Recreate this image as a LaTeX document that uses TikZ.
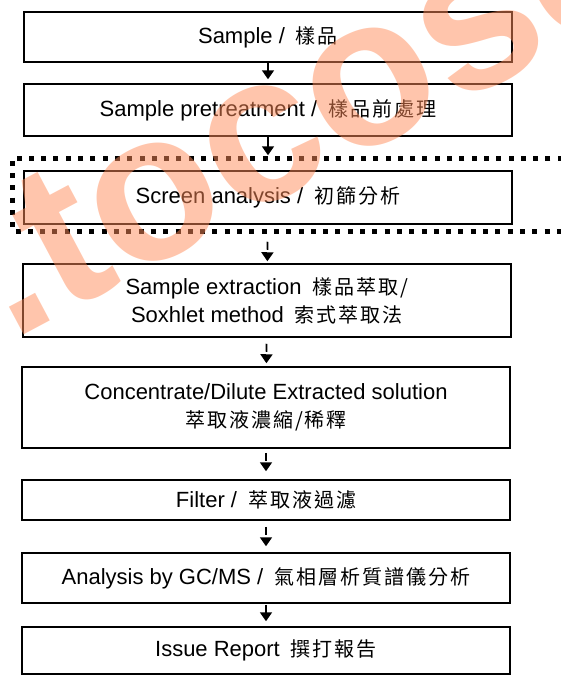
\documentclass[tikz,border=0pt]{standalone}
\usepackage{fontspec}
\setmainfont{Liberation Sans}
\newfontfamily\cjk{Noto Sans CJK TC}[LetterSpace=10]
\usetikzlibrary{arrows.meta}
\definecolor{peach}{RGB}{255,140,90}
\newcommand{\zh}[1]{{\cjk\fontsize{20}{28}\selectfont #1}}

\begin{document}
\begin{tikzpicture}[x=1pt, y=-1pt,
    box/.style={draw, line width=1.5pt, minimum width=488pt, inner sep=0pt,
                align=center, font=\fontsize{22}{28}\selectfont},
    flow/.style={-{Triangle[width=12pt,length=9pt]}, line width=1.8pt},
    flowdash/.style={flow, dash pattern=on 8pt off 4pt}]
  \useasboundingbox (0,0) rectangle (561,675);
  % steps
  \node[box, minimum height=50pt] (sample) at (268,37) {Sample /\hspace{11pt}\zh{樣品}};
  \node[box, minimum height=52pt] (pretreat) at (268,110) {Sample pretreatment /\hspace{11pt}\zh{樣品前處理}};
  \node[box, minimum height=53pt] (screen) at (268,197.5) {Screen analysis /\hspace{11pt}\zh{初篩分析}};
  \node[box, minimum height=73pt] (extract) at (267,300.5) {Sample extraction\hspace{11pt}\zh{樣品萃取/}\\
    Soxhlet method\hspace{11pt}\zh{索式萃取法}};
  \node[box, minimum height=81pt] (concdil) at (266,407.5) {Concentrate/Dilute Extracted solution\\
    \zh{萃取液濃縮/稀釋}};
  \node[box, minimum height=40pt] (filter) at (266,500) {Filter /\hspace{11pt}\zh{萃取液過濾}};
  \node[box, minimum height=50pt] (gcms) at (266,578) {Analysis by GC/MS /\hspace{11pt}\zh{氣相層析質譜儀分析}};
  \node[box, minimum height=47pt] (report) at (266,650.5) {Issue Report\hspace{11pt}\zh{撰打報告}};
  % dotted frame round the screening step
  \draw[line width=5pt, dash pattern=on 5pt off 7.3pt] (575,158) -- (12,158) -- (12,231) -- (575,231);
  % arrows
  \draw[flow, shorten >=4pt] (sample) -- (pretreat);
  \draw[flow, shorten >=15pt] (pretreat) -- (screen);
  \draw[flowdash, shorten <=17pt, shorten >=2pt] (screen) -- (extract);
  \draw[flowdash, shorten <=6pt, shorten >=3pt] (extract) -- (concdil);
  \draw[flowdash, shorten <=4pt, shorten >=8pt] (concdil) -- (filter);
  \draw[flowdash, shorten <=6pt, shorten >=6pt] (filter) -- (gcms);
  \draw[flowdash, shorten <=1pt, shorten >=5pt] (gcms) -- (report);
  % watermark
  \node[anchor=base west, rotate=28, text=peach, opacity=.5, inner sep=0pt,
        font=\bfseries\fontsize{210}{210}\selectfont] (mark) at (11,342) {.tocosc};
\end{tikzpicture}
\end{document}
